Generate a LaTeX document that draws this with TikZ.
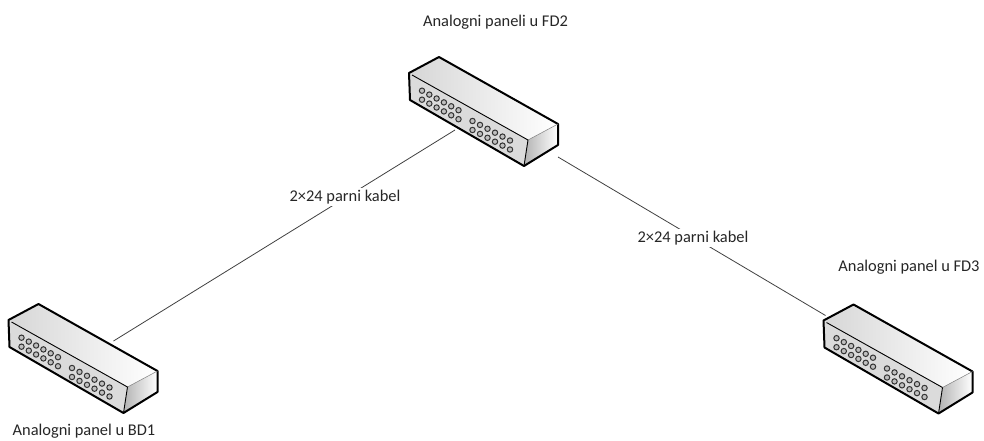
\documentclass[tikz,border=0pt]{standalone}
\usepackage{fontspec}
\setmainfont{Carlito}
\tikzset{
  x=1pt, y=-1pt,
  label/.style={inner sep=0pt, font=\fontsize{16.4}{18}\selectfont, text=black!85},
  link/.style={draw=black!75, line width=0.8pt},
  hole/.style={circle, draw=black!80, fill=black!25, line width=1pt, inner sep=0pt, minimum size=5.4pt},
  panel/.pic={
    \shade[left color=black!16, right color=white] (0,0) -- (30,-16) -- (149,51) -- (119,67) -- cycle;
    \shade[left color=black!30, right color=white] (119,67) -- (149,51) -- (149,72) -- (115,93) -- cycle;
    \fill[black!14] (0,0) -- (119,67) -- (115,93) -- (1,27) -- cycle;

    % ports, left group then right group
    \foreach \col in {0,...,5} {
      \foreach \row in {0,1} {
        \node[hole] at ({13+\col*7.3},{17.7+\col*3.9+\row*9}) {};
        \node[hole] at ({63.5+\col*7.5},{48+\col*3.9+\row*9}) {};
      }
    }

    \draw[line width=2pt, line join=round] (0,0) -- (30,-16) -- (149,51) -- (149,72) -- (115,93) -- (1,27) -- cycle;
    \draw[line width=0.9pt] (3,2) -- (119,67) -- (115,93);
    \draw[line width=0.5pt, black!50] (119,67) -- (149,51);

    \coordinate (-back) at (105,21);
    \coordinate (-front) at (46,57);
    \coordinate (-side) at (149,84);
    \coordinate (-corner) at (2,-5);
  }
}
\begin{document}
\begin{tikzpicture}

\useasboundingbox (0,0) rectangle (984,441);

\pic (fdtwo) at (409,73) {panel};
\pic (bdone) at (8.5,320) {panel};
\pic (fdthree) at (823.5,320.5) {panel};

\node[label] (fdtwotext) at (495.5,22) {Analogni paneli u FD2};
\node[label] (bdonetext) at (84,431) {Analogni panel u BD1};
\node[label] (fdthreetext) at (909,267) {Analogni panel u FD3};

\draw[link] (fdtwo-front) -- (bdone-back);
\draw[link] (fdtwo-side) -- (fdthree-corner);

\node[label, fill=white, inner sep=2pt] (kabelone) at (345,197) {2×24 parni kabel};
\node[label, fill=white, inner sep=2pt] (kabeltwo) at (693,238) {2×24 parni kabel};

\end{tikzpicture}
\end{document}
